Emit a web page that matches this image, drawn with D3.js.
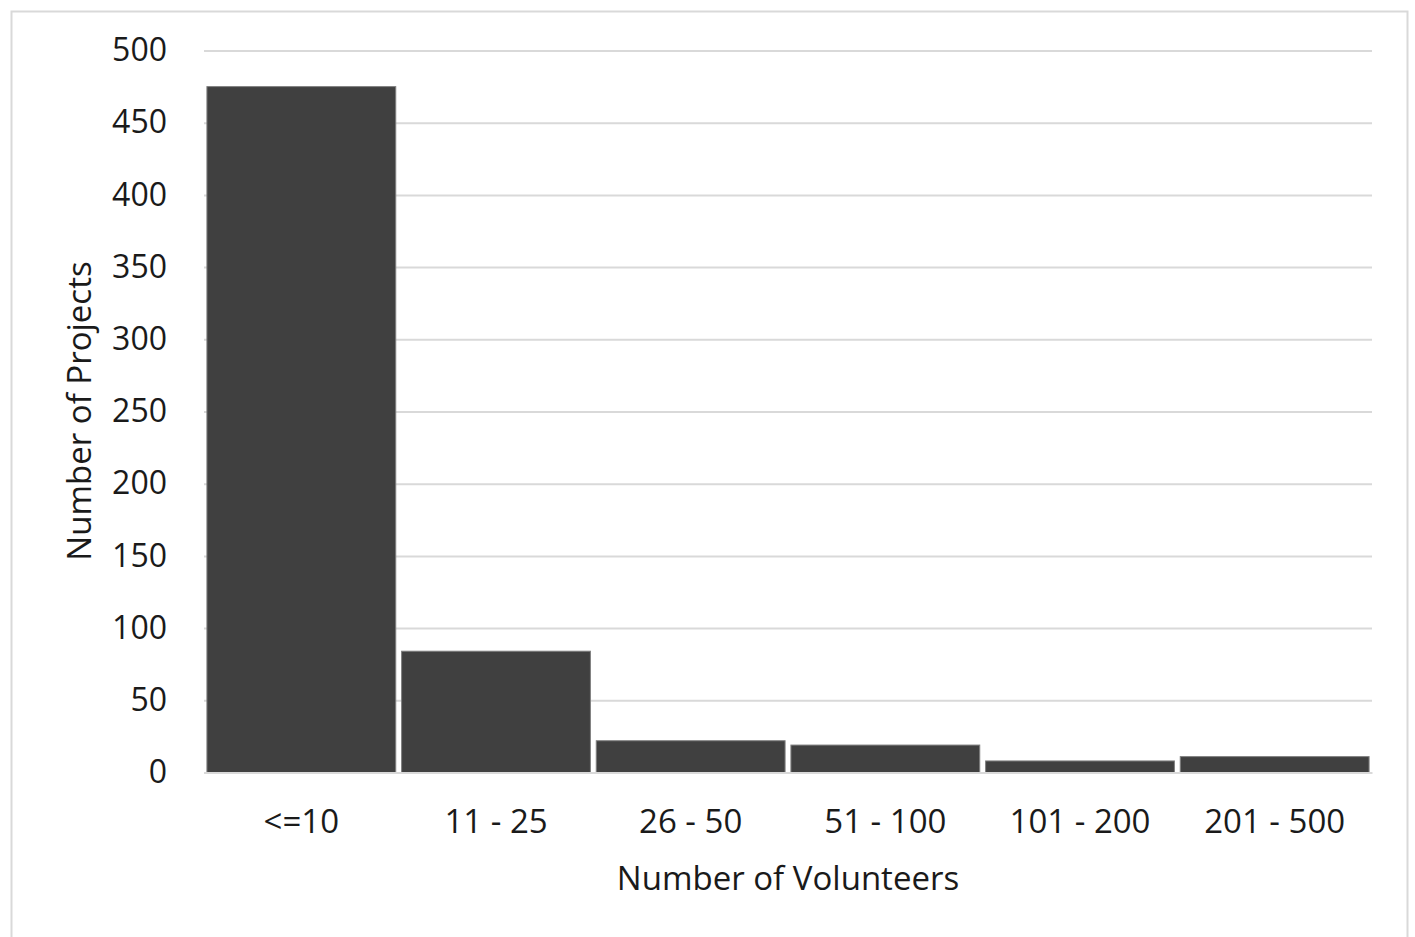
<!DOCTYPE html>
<html><head><meta charset="utf-8">
<script src="https://cdn.jsdelivr.net/npm/d3@7"></script>
<style>body{margin:0;background:#fff}svg{display:block}text{font-family:"Open Sans",sans-serif;fill:#1a1a1a}</style>
</head><body><svg id="c" width="1415" height="937"></svg>
<script>
const categories = ["<=10","11 - 25","26 - 50","51 - 100","101 - 200","201 - 500"];
const projects = [475, 84, 22, 19, 8, 11];
const yTicks = [0,50,100,150,200,250,300,350,400,450,500];

(function(){
const svg = d3.select("#c");
svg.append("rect").attr("x",11.5).attr("y",11.5).attr("width",1396).attr("height",940)
  .attr("fill","#fff").attr("stroke","#d9d9d9").attr("stroke-width",2);

const L=204,R=1372,T=50.5,B=772.5;
const x=d3.scaleBand().domain(categories).range([L,R]).paddingInner(0.03).paddingOuter(0.015);
const y=d3.scaleLinear().domain([0,500]).range([B,T]);

const grid=svg.append("g").attr("transform",`translate(${L},0)`)
  .call(d3.axisLeft(y).tickValues(yTicks).tickSize(-(R-L)).tickFormat(d3.format("d")).tickPadding(37));
grid.select(".domain").remove();
grid.selectAll(".tick line").attr("stroke","#d9d9d9").attr("stroke-width",2);
grid.selectAll(".tick text").attr("font-size",32).attr("fill","#1a1a1a").attr("font-family","Open Sans");

svg.append("g").selectAll("rect").data(projects).join("rect")
  .attr("x",(d,i)=>x(categories[i])).attr("width",x.bandwidth())
  .attr("y",d=>y(d)).attr("height",d=>y(0)-y(d))
  .attr("fill","#404040").attr("stroke","#7f7f7f").attr("stroke-width",1);

const xa=svg.append("g").attr("transform",`translate(0,${B})`)
  .call(d3.axisBottom(x).tickSize(0).tickPadding(37));
xa.select(".domain").attr("stroke","#d9d9d9").attr("stroke-width",2);
xa.selectAll(".tick text").attr("font-size",33).attr("fill","#1a1a1a").attr("font-family","Open Sans");

svg.append("text").attr("x",788).attr("y",890).attr("text-anchor","middle")
  .attr("font-size",33).text("Number of Volunteers");
svg.append("text").attr("transform","translate(91,411) rotate(-90)").attr("text-anchor","middle")
  .attr("font-size",33).text("Number of Projects");
})();
</script></body></html>
